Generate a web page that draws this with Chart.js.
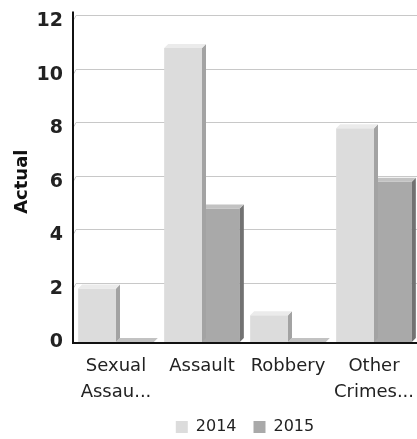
<!DOCTYPE html>
<html>
<head>
<meta charset="utf-8">
<script src="https://cdn.jsdelivr.net/npm/chart.js@4"></script>
<style>
  html, body { margin: 0; padding: 0; background: #fff; }
  #wrap { width: 417px; height: 439px; }
</style>
</head>
<body>
<div id="wrap"><canvas id="crimeChart"></canvas></div>
<script>
const categories = [['Sexual', 'Assau...'], 'Assault', 'Robbery', ['Other', 'Crimes...']]
const years = ['2014', '2015']
const values2014 = [2, 11, 1, 8]
const values2015 = [0, 5, 0, 6]
const yMax = 12
const yStep = 2

const FONT = '"DejaVu Sans", Verdana, sans-serif'
const DEPTH = 4
const WALL = 6

// face / side / top colours per series
const shades = [
  { face: '#dcdcdc', side: '#a3a3a3', top: '#ebebeb' },
  { face: '#a9a9a9', side: '#727272', top: '#c2c2c2' },
]

// back wall gridlines, shifted up like the 3d original
const wallGrid = {
  id: 'wallGrid',
  beforeDatasetsDraw(chart) {
    const { ctx, chartArea, scales } = chart
    ctx.save()
    ctx.strokeStyle = '#c8c8c8'
    ctx.lineWidth = 1
    scales.y.ticks.forEach(t => {
      if (t.value === 0) return
      const y = Math.round(scales.y.getPixelForValue(t.value)) + 0.5
      ctx.beginPath()
      ctx.moveTo(chartArea.left + 1, y - WALL + 4)
      ctx.lineTo(chartArea.left + 3, y - WALL)
      ctx.lineTo(chartArea.right, y - WALL)
      ctx.stroke()
    })
    ctx.restore()
  },
  afterDraw(chart) {
    const { ctx, chartArea } = chart
    ctx.save()
    ctx.strokeStyle = '#111'
    ctx.lineWidth = 2
    ctx.beginPath()
    ctx.moveTo(chartArea.left, chartArea.top - 10)
    ctx.lineTo(chartArea.left, chartArea.bottom + 1)
    ctx.lineTo(chartArea.right, chartArea.bottom + 1)
    ctx.stroke()
    ctx.restore()
  }
}

// side and top faces for each bar, drawn right after its dataset
const bevel = {
  id: 'bevel',
  afterDatasetDraw(chart, args) {
    const { ctx } = chart
    const c = shades[args.index]
    ctx.save()
    args.meta.data.forEach(bar => {
      const { x, y, base, width } = bar.getProps(['x', 'y', 'base', 'width'], true)
      const l = x - width / 2, r = x + width / 2
      ctx.fillStyle = c.side
      ctx.beginPath()
      ctx.moveTo(r, y)
      ctx.lineTo(r + DEPTH, y - DEPTH)
      ctx.lineTo(r + DEPTH, base - DEPTH)
      ctx.lineTo(r, base)
      ctx.closePath()
      ctx.fill()
      ctx.fillStyle = c.top
      ctx.beginPath()
      ctx.moveTo(l, y)
      ctx.lineTo(l + DEPTH, y - DEPTH)
      ctx.lineTo(r + DEPTH, y - DEPTH)
      ctx.lineTo(r, y)
      ctx.closePath()
      ctx.fill()
    })
    ctx.restore()
  }
}

new Chart(document.getElementById('crimeChart'), {
  type: 'bar',
  data: {
    labels: categories,
    datasets: [
      { label: years[0], data: values2014, backgroundColor: shades[0].face, borderWidth: 0 },
      { label: years[1], data: values2015, backgroundColor: shades[1].face, borderWidth: 0 },
    ]
  },
  options: {
    responsive: true,
    maintainAspectRatio: false,
    animation: false,
    layout: { padding: { top: 20, right: 0, left: 0, bottom: -6 } },
    datasets: { bar: { barPercentage: 1, categoryPercentage: 0.88 } },
    scales: {
      x: {
        grid: { display: false, drawTicks: false },
        border: { display: false },
        ticks: { color: '#222', font: { family: FONT, size: 18, lineHeight: 1.45 }, padding: 11, maxRotation: 0, autoSkip: false },
        afterFit(s) {
          s.height = 60
          s.paddingLeft = 0
          s.paddingRight = 0
        }
      },
      y: {
        min: 0,
        max: yMax,
        grid: { display: false, drawTicks: false },
        border: { display: false },
        ticks: { stepSize: yStep, color: '#222', font: { family: FONT, size: 19, weight: 'bold' }, padding: 10 },
        title: { display: true, text: 'Actual', color: '#111', font: { family: FONT, size: 18, weight: 'bold' }, padding: { top: 12, bottom: 0 } },
        afterFit(s) { s.width = 73 }
      }
    },
    plugins: {
      legend: {
        position: 'bottom',
        fullSize: false,
        labels: { color: '#222', font: { family: FONT, size: 16 }, boxWidth: 12, boxHeight: 12, padding: 17 }
      },
      tooltip: { enabled: false }
    }
  },
  plugins: [wallGrid, bevel]
})
</script>
</body>
</html>
